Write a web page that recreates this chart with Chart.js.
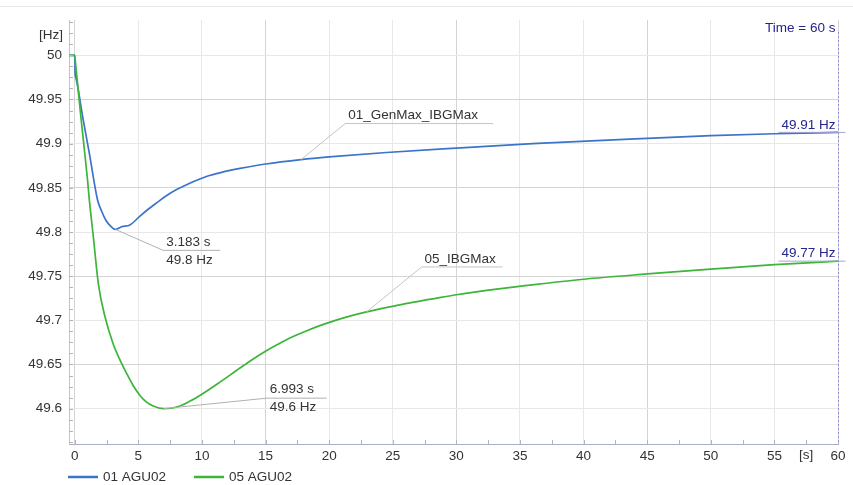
<!DOCTYPE html>
<html>
<head>
<meta charset="utf-8">
<title>Frequency AGU02</title>
<script src="https://cdn.jsdelivr.net/npm/chart.js@4"></script>
<style>
  html, body { margin: 0; padding: 0; background: #fff; }
  #wrap { position: relative; width: 853px; height: 485px; }
</style>
</head>
<body>
<div id="wrap"><canvas id="chart"></canvas></div>
<script>
// values: time [s] and frequency [Hz]
const genTime = [-0.45, 0, 0.03, 0.1, 0.63, 1.15, 1.8, 2.1, 2.46, 2.8, 3.183, 3.69, 4.34, 5.13, 5.8, 6.44, 7.2, 8.01, 9, 9.84, 10.6, 11.4, 12.2, 13, 15, 17.8, 20, 24.5, 30, 36, 45, 50, 55, 60];
const genFreq = [50, 50, 49.98, 49.974, 49.93, 49.889, 49.836, 49.824, 49.813, 49.807, 49.803, 49.806, 49.808, 49.818, 49.826, 49.833, 49.841, 49.848, 49.855, 49.86, 49.864, 49.867, 49.8697, 49.872, 49.877, 49.882, 49.885, 49.89, 49.895, 49.9, 49.906, 49.909, 49.9112, 49.9128];

const ibgTime = [-0.45, 0, 0.05, 0.5, 1.0, 1.15, 1.46, 1.86, 2.38, 3.03, 3.5, 4.08, 4.6, 5.13, 5.6, 6.17, 6.993, 7.6, 8.27, 9, 9.84, 11.41, 12.99, 14, 15, 15.8, 16.5, 17.3, 18.2, 19.27, 20.5, 21.7, 22.94, 24.5, 26, 28, 30, 33, 36.5, 40, 45, 50, 55, 60];
const ibgFreq = [50, 50, 49.993, 49.928, 49.86, 49.836, 49.795, 49.741, 49.704, 49.673, 49.657, 49.64, 49.626, 49.615, 49.608, 49.603, 49.6, 49.6005, 49.603, 49.608, 49.615, 49.63, 49.646, 49.656, 49.665, 49.6715, 49.677, 49.6825, 49.688, 49.694, 49.7, 49.705, 49.7095, 49.7145, 49.719, 49.724, 49.729, 49.735, 49.741, 49.7465, 49.7525, 49.758, 49.763, 49.767];

const seriesNames = ['01 AGU02', '05 AGU02'];
const curveNames = ['01_GenMax_IBGMax', '05_IBGMax'];
const curveLabelTimes = [17.8, 22.94];
const minTimes = [3.183, 6.993];
const minFreqs = [49.803, 49.6];

const xTicks = [0, 5, 10, 15, 20, 25, 30, 35, 40, 45, 50, 55, 60];
const yTicks = [49.6, 49.65, 49.7, 49.75, 49.8, 49.85, 49.9, 49.95, 50];
const endTime = 60;

const times = [genTime, ibgTime];
const freqs = [genFreq, ibgFreq];

const FONT = "'Liberation Sans', Arial, sans-serif";
Chart.defaults.font.family = FONT;
Chart.defaults.font.size = 13.5;
Chart.defaults.color = '#333';

function valueAt(ts, vs, t) {
  for (let i = 1; i < ts.length; i++) {
    if (t <= ts[i]) {
      const k = (t - ts[i - 1]) / (ts[i] - ts[i - 1]);
      return vs[i - 1] + k * (vs[i] - vs[i - 1]);
    }
  }
  return vs[vs.length - 1];
}

const darkX = v => v % 15 === 0;
const darkY = v => Math.abs(Math.round(v * 100) % 10) === 5;

// label / leader-line layout (pixels relative to the anchor point)
const minLayout = [{ dx: 48, dy: 21, len: 57 }, { dx: 103, dy: -10.5, len: 60 }];
const nameLayout = [{ dx: 44, dy: -36, len: 148 }, { dx: 55, dy: -45, len: 81 }];

const overlay = {
  id: 'overlay',
  afterDraw(chart) {
    const { ctx, chartArea: a, scales: { x, y } } = chart;
    ctx.save();

    // thin frame line at the very top
    ctx.strokeStyle = '#e6e6e6';
    ctx.lineWidth = 1;
    ctx.beginPath(); ctx.moveTo(0, 6.5); ctx.lineTo(853, 6.5); ctx.stroke();

    // minor ticks inside the plot
    ctx.strokeStyle = '#b4b4b4';
    ctx.beginPath();
    for (let v = 49.55; v <= 50.05; v += 0.0125) {
      if (v < y.min || v > y.max) continue;
      const py = Math.round(y.getPixelForValue(v)) + 0.5;
      ctx.moveTo(a.left, py); ctx.lineTo(a.left + 4, py);
    }
    for (let t = -2.5; t <= 60; t += 2.5) {
      if (t < x.min || t > x.max) continue;
      const px = Math.round(x.getPixelForValue(t)) + 0.5;
      ctx.moveTo(px, a.bottom); ctx.lineTo(px, a.bottom - 4);
    }
    ctx.stroke();

    ctx.font = '13.5px ' + FONT;
    ctx.textBaseline = 'middle';

    // unit labels
    ctx.fillStyle = '#333';
    ctx.textAlign = 'right';
    ctx.fillText('[Hz]', a.left - 6, a.top + 15);
    ctx.textAlign = 'center';
    ctx.fillText('[s]', x.getPixelForValue(57.5), a.bottom + 11);

    // time cursor at 60 s
    const xe = Math.round(x.getPixelForValue(endTime)) + 0.5;
    ctx.strokeStyle = '#8f8fde';
    ctx.setLineDash([2, 2]);
    ctx.beginPath(); ctx.moveTo(xe, a.top + 12); ctx.lineTo(xe, a.bottom); ctx.stroke();
    ctx.setLineDash([]);
    ctx.fillStyle = '#25258c';
    ctx.textAlign = 'right';
    ctx.fillText('Time = ' + endTime + ' s', xe - 3, a.top + 8);

    // values at the cursor
    freqs.forEach((fs, i) => {
      const v = valueAt(times[i], fs, endTime);
      const py = y.getPixelForValue(v);
      const txt = v.toFixed(2) + ' Hz';
      const w = ctx.measureText(txt).width;
      ctx.strokeStyle = '#a3a3d6';
      ctx.beginPath(); ctx.moveTo(xe - w - 6, py); ctx.lineTo(xe + 7, py); ctx.stroke();
      ctx.fillStyle = '#25258c';
      ctx.fillText(txt, xe - 3, py - 7.5);
    });

    ctx.textAlign = 'left';
    // minimum markers
    minTimes.forEach((t, i) => {
      const ax = x.getPixelForValue(t), ay = y.getPixelForValue(minFreqs[i]);
      const L = minLayout[i];
      const ex = ax + L.dx, ey = ay + L.dy;
      ctx.strokeStyle = '#b0b0b0';
      ctx.beginPath(); ctx.moveTo(ax, ay); ctx.lineTo(ex, ey); ctx.lineTo(ex + L.len, ey); ctx.stroke();
      ctx.fillStyle = '#333';
      ctx.fillText(t.toFixed(3) + ' s', ex + 3, ey - 8.5);
      ctx.fillText(minFreqs[i].toFixed(1) + ' Hz', ex + 3, ey + 9.5);
    });

    // curve names
    curveLabelTimes.forEach((t, i) => {
      const ax = x.getPixelForValue(t), ay = y.getPixelForValue(valueAt(times[i], freqs[i], t));
      const L = nameLayout[i];
      const ex = ax + L.dx, ey = ay + L.dy;
      ctx.strokeStyle = '#c4c4c4';
      ctx.beginPath(); ctx.moveTo(ax, ay); ctx.lineTo(ex, ey); ctx.lineTo(ex + L.len, ey); ctx.stroke();
      ctx.fillStyle = '#333';
      ctx.fillText(curveNames[i], ex + 3, ey - 8);
    });

    // legend
    let lx = a.left - 1;
    const ly = a.bottom + 33;
    chart.data.datasets.forEach(ds => {
      ctx.strokeStyle = ds.borderColor;
      ctx.lineWidth = 2.5;
      ctx.beginPath(); ctx.moveTo(lx, ly); ctx.lineTo(lx + 30, ly); ctx.stroke();
      ctx.fillStyle = '#333';
      ctx.fillText(ds.label, lx + 35, ly);
      lx += 35 + ctx.measureText(ds.label).width + 28;
    });

    ctx.restore();
  }
};

new Chart(document.getElementById('chart'), {
  type: 'line',
  data: {
    datasets: [
      {
        label: seriesNames[0],
        data: genTime.map((t, i) => ({ x: t, y: genFreq[i] })),
        borderColor: '#3b74c9',
        borderWidth: 1.7,
        order: 2
      },
      {
        label: seriesNames[1],
        data: ibgTime.map((t, i) => ({ x: t, y: ibgFreq[i] })),
        borderColor: '#3db43a',
        borderWidth: 1.7,
        order: 1
      }
    ]
  },
  options: {
    responsive: true,
    maintainAspectRatio: false,
    devicePixelRatio: 1,
    animation: false,
    layout: { padding: { left: 0, right: 15, top: 20, bottom: 0 } },
    elements: { point: { radius: 0 }, line: { cubicInterpolationMode: 'monotone' } },
    plugins: { legend: { display: false }, tooltip: { enabled: false } },
    scales: {
      x: {
        type: 'linear',
        min: -0.45,
        max: 60,
        afterBuildTicks: s => { s.ticks = xTicks.map(v => ({ value: v })); },
        afterFit: s => { s.height = 41; },
        ticks: { autoSkip: false, maxRotation: 0, padding: 4, color: '#333' },
        grid: { drawTicks: false, color: c => darkX(c.tick.value) ? '#d4d4d4' : '#e8e8e8' },
        border: { color: '#a9afc6' }
      },
      y: {
        type: 'linear',
        min: 49.56,
        max: 50.04,
        afterBuildTicks: s => { s.ticks = yTicks.map(v => ({ value: v })); },
        afterFit: s => { s.width = 69; },
        ticks: { autoSkip: false, padding: 7, color: '#333', callback: v => String(+v.toFixed(2)) },
        grid: { drawTicks: false, color: c => darkY(c.tick.value) ? '#d4d4d4' : '#e8e8e8' },
        border: { color: '#c4c4c4' }
      }
    }
  },
  plugins: [overlay]
});
</script>
</body>
</html>
